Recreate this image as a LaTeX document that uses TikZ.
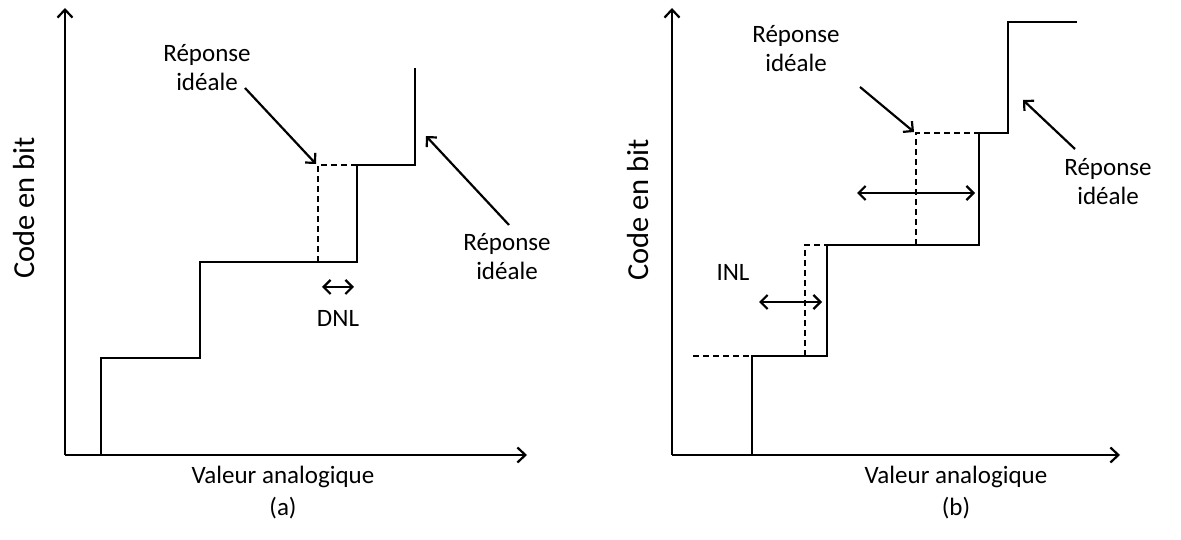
\documentclass[tikz,border=0pt]{standalone}
\usepackage{fontspec}
\setmainfont{Carlito}
\usetikzlibrary{arrows.meta}

\begin{document}
\begin{tikzpicture}[x=1pt, y=1pt,
    every node/.style={font=\fontsize{25}{29}\selectfont},
    label/.style={align=center, inner sep=0pt},
    ylabel/.style={label, rotate=90, font=\fontsize{30.5}{36}\selectfont},
    curve/.style={line width=2pt},
    ideal/.style={line width=1.6pt, dash pattern=on 6pt off 4pt},
    axis/.style={line width=2.2pt, -{Straight Barb[length=8pt, width=15pt, line width=2.2pt]}},
    pointer/.style={line width=2.2pt, -{Straight Barb[length=7pt, width=14pt, line width=2.2pt]}},
    span/.style={line width=2.2pt, {Straight Barb[length=7pt, width=14pt, line width=2.2pt]}-{Straight Barb[length=7pt, width=14pt, line width=2.2pt]}}]
    \useasboundingbox (0,0) rectangle (1181,540);

    % (a) Nodes
    \coordinate (oa) at (65,85);
    \coordinate (ya) at (65,532);
    \coordinate (xa) at (527,85);
    \node[label] (ideal1) at (207,472) {Réponse\\idéale};
    \node[label] (ideal2) at (507,283) {Réponse\\idéale};
    \node[label] (dnl) at (338,222) {DNL};
    \node[label] (vala) at (283,63) {Valeur analogique};
    \node[label] (capa) at (283,32) {(a)};
    \node[ylabel] (codea) at (24,332) {Code en bit};
    \coordinate (a1) at (245,452);
    \coordinate (a2) at (316,376);
    \coordinate (a3) at (509,315);
    \coordinate (a4) at (426,404);
    \coordinate (d1) at (322,253);
    \coordinate (d2) at (354,253);

    % (a) Curves
    \draw[axis] (oa) -- (ya);
    \draw[axis] (oa) -- (xa);
    \draw[curve] (101,85) -- (101,182) -- (200,182) -- (200,278) -- (357,278)
        -- (357,375) -- (415,375) -- (415,472);
    \draw[ideal] (318,278) -- (318,375) -- (357,375);

    % (a) Arrows
    \draw[pointer] (a1) -- (a2);
    \draw[pointer] (a3) -- (a4);
    \draw[span] (d1) -- (d2);

    % (b) Nodes
    \coordinate (ob) at (672,85);
    \coordinate (yb) at (672,532);
    \coordinate (xb) at (1120,85);
    \node[label] (ideal3) at (796,491) {Réponse\\idéale};
    \node[label] (ideal4) at (1108,358) {Réponse\\idéale};
    \node[label] (inl) at (733,268) {INL};
    \node[label] (valb) at (956,63) {Valeur analogique};
    \node[label] (capb) at (956,32) {(b)};
    \node[ylabel] (codeb) at (638,330) {Code en bit};
    \coordinate (b1) at (860,453);
    \coordinate (b2) at (914,408);
    \coordinate (b3) at (1075,391);
    \coordinate (b4) at (1023,440);
    \coordinate (i1) at (759,238);
    \coordinate (i2) at (822,238);
    \coordinate (w1) at (857,347);
    \coordinate (w2) at (975,347);

    % (b) Curves
    \draw[axis] (ob) -- (yb);
    \draw[axis] (ob) -- (xb);
    \draw[curve] (752,85) -- (752,184) -- (827,184) -- (827,295) -- (979,295)
        -- (979,407) -- (1008,407) -- (1008,518) -- (1077,518);
    \draw[ideal] (693,184) -- (752,184);
    \draw[ideal] (805,184) -- (805,295) -- (827,295);
    \draw[ideal] (916,295) -- (916,407) -- (979,407);

    % (b) Arrows
    \draw[pointer] (b1) -- (b2);
    \draw[pointer] (b3) -- (b4);
    \draw[span] (i1) -- (i2);
    \draw[span] (w1) -- (w2);
\end{tikzpicture}
\end{document}
